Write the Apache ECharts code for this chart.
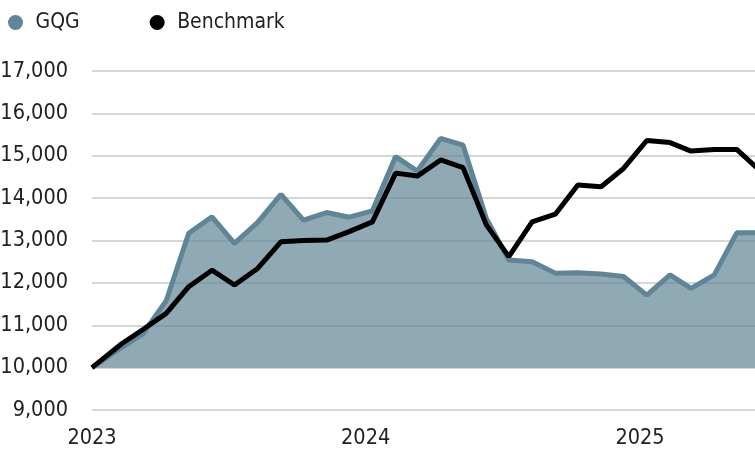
<!DOCTYPE html>
<html>
<head>
<meta charset="utf-8">
<script src="https://cdn.jsdelivr.net/npm/echarts@6/dist/echarts.min.js"></script>
<style>
  html, body { margin: 0; padding: 0; background: #fff; }
  #growthChart { width: 755px; height: 452px; }
</style>
</head>
<body>
<div id="growthChart"></div>
<script>
// 日期（起点 + 每月取值点）
var dates = ['2023-01-01',
    '2023-02-10','2023-03-10','2023-04-10','2023-05-10','2023-06-10','2023-07-10',
    '2023-08-10','2023-09-10','2023-10-10','2023-11-10','2023-12-10','2024-01-10',
    '2024-02-10','2024-03-10','2024-04-10','2024-05-10','2024-06-10','2024-07-10',
    '2024-08-10','2024-09-10','2024-10-10','2024-11-10','2024-12-10','2025-01-10',
    '2025-02-10','2025-03-10','2025-04-10','2025-05-10','2025-06-10'];
// GQG 增长 10,000
var gqgValues = [10000,
    10480,10800,11580,13170,13560,12930,13430,14090,13480,13660,13550,13700,
    14980,14640,15410,15250,13520,12540,12500,12230,12240,12210,12150,11710,
    12190,11870,12190,13180,13180];
// 基准
var benchmarkValues = [10000,
    10570,10900,11280,11910,12300,11950,12340,12970,13000,13010,13210,13440,
    14590,14520,14900,14720,13370,12620,13440,13620,14310,14270,14700,15360,
    15310,15110,15150,15150,14650];
var yTicks = [9000, 17000, 1000];   // min, max, interval
var seriesNames = ['GQG', 'Benchmark'];

function pairs(vals) {
    var out = [];
    for (var i = 0; i < vals.length; i++) { out.push([dates[i], vals[i]]); }
    return out;
}

// 窄体字：DejaVu Sans 的 condensed 字面
var textFont = '"DejaVu Sans Condensed", "DejaVu Sans", sans-serif';
var textStretch = 'condensed';
var myChart = echarts.init(document.getElementById('growthChart'));
var option = {
    animation: false,
    color: ['#5f8596', '#000000'],
    legend: {
        left: 3,
        top: 7,
        icon: 'circle',
        itemWidth: 30,
        itemHeight: 15,
        itemGap: 70,
        textStyle: { fontFamily: textFont, fontWeight: textStretch, fontSize: 21, color: '#222' },
        data: seriesNames
    },
    grid: { left: 92, right: -5, top: 71, bottom: 42, containLabel: false, outerBoundsMode: 'none' },
    xAxis: {
        type: 'time',
        min: dates[0],
        max: dates[dates.length - 1],
        axisLine: { show: false },
        axisTick: { show: false },
        splitLine: { show: false },
        axisLabel: {
            margin: 17,
            fontFamily: textFont,
            fontWeight: textStretch,
            fontSize: 21.5,
            color: '#222',
            hideOverlap: false,
            formatter: function (value) {
                var d = new Date(value);
                return (d.getMonth() === 0 && d.getDate() === 1) ? String(d.getFullYear()) : '';
            }
        }
    },
    yAxis: {
        type: 'value',
        min: yTicks[0],
        max: yTicks[1],
        interval: yTicks[2],
        axisLine: { show: false },
        axisTick: { show: false },
        splitLine: { lineStyle: { color: '#c8c8c8', width: 1.5 } },
        axisLabel: {
            margin: 24,
            fontFamily: textFont,
            fontWeight: textStretch,
            fontSize: 21.5,
            color: '#222',
            formatter: function (v) { return v.toLocaleString('en-US'); }
        }
    },
    series: [{
        name: seriesNames[0],
        type: 'line',
        symbol: 'none',
        data: pairs(gqgValues),
        lineStyle: { width: 5, color: '#5f8596' },
        areaStyle: { color: '#5f8596', opacity: 0.7, origin: 10000 },
        z: 2
    }, {
        name: seriesNames[1],
        type: 'line',
        symbol: 'none',
        data: pairs(benchmarkValues),
        lineStyle: { width: 5, color: '#000000' },
        z: 3
    }]
};
myChart.setOption(option);
</script>
</body>
</html>
